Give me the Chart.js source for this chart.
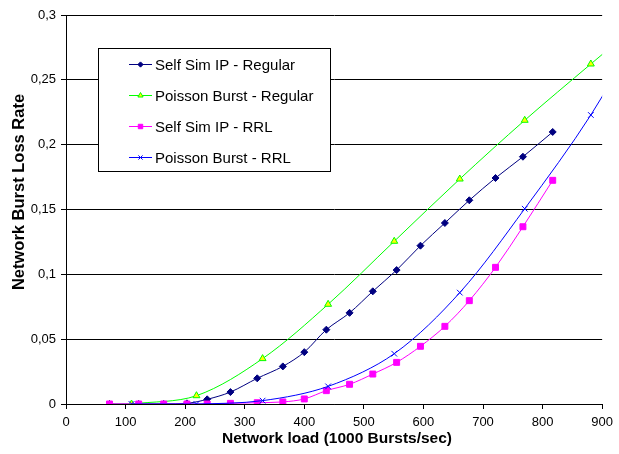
<!DOCTYPE html>
<html>
<head>
<meta charset="utf-8">
<script src="https://cdn.jsdelivr.net/npm/chart.js@4/dist/chart.umd.min.js"></script>
<style>
  html, body { margin: 0; padding: 0; background: #fff; }
  #chart { display: block; }
</style>
</head>
<body>
<canvas id="chart" width="619" height="454"></canvas>
<script>
// loads (1000 bursts/sec) and loss rates
const selfSimLoad = [73, 122, 164, 203, 237, 276, 321, 364, 400, 437, 476, 515, 555, 595, 636, 677, 721, 767, 817];
const selfSimRegular = [0, 0, 0, 0.0005, 0.0036, 0.0092, 0.0198, 0.029, 0.040, 0.0573, 0.0703, 0.0869, 0.1033, 0.1221, 0.1396, 0.1571, 0.1743, 0.1907, 0.2098];
const selfSimRRL = [0, 0, 0, 0, 0, 0.0005, 0.0010, 0.0016, 0.0039, 0.0103, 0.0152, 0.0231, 0.0321, 0.0445, 0.0599, 0.0797, 0.1054, 0.1367, 0.1725];

const poissonLoad = [110, 219, 330, 440, 551, 661, 770, 881, 992];
const poissonRegular = [0, 0.0064, 0.035, 0.0769, 0.1255, 0.1735, 0.2188, 0.2622, 0.305];
const poissonRRL = [0, 0, 0.0026, 0.0136, 0.0388, 0.0859, 0.1506, 0.2229, 0.31];

const seriesNames = ["Self Sim IP - Regular", "Poisson Burst - Regular", "Self Sim IP - RRL", "Poisson Burst - RRL"];

const xTickValues = [0, 100, 200, 300, 400, 500, 600, 700, 800, 900];
const xTickLabels = ["0", "100", "200", "300", "400", "500", "600", "700", "800", "900"];
const yTickValues = [0, 0.05, 0.1, 0.15, 0.2, 0.25, 0.3];
const yTickLabels = ["0", "0,05", "0,1", "0,15", "0,2", "0,25", "0,3"];

const FONT = "'Liberation Sans', Arial, sans-serif";

function points(xs, ys) {
  return xs.map((x, i) => ({ x, y: ys[i] }));
}

const legendBox = {
  id: "legendBox",
  afterDraw(chart) {
    const ctx = chart.ctx;
    ctx.save();
    ctx.fillStyle = "#fff";
    ctx.fillRect(98.5, 48.5, 232, 123);
    ctx.strokeStyle = "#000";
    ctx.lineWidth = 1;
    ctx.strokeRect(98.5, 48.5, 232, 123);
    chart.data.datasets.forEach((ds, i) => {
      const y = 64.5 + i * 31;
      ctx.strokeStyle = ds.borderColor;
      ctx.lineWidth = 1;
      ctx.beginPath();
      ctx.moveTo(129, y);
      ctx.lineTo(152, y);
      ctx.stroke();
      ctx.fillStyle = ds.pointBackgroundColor;
      ctx.strokeStyle = ds.pointBorderColor;
      Chart.helpers.drawPoint(ctx, { pointStyle: ds.pointStyle, radius: ds.pointRadius * 0.75, rotation: 0, borderWidth: 1 }, 140.5, y);
      ctx.fillStyle = "#000";
      ctx.font = "15px " + FONT;
      ctx.textAlign = "left";
      ctx.textBaseline = "middle";
      ctx.fillText(ds.label, 155, y + 1);
    });
    ctx.restore();
  }
};

const axisTitles = {
  id: "axisTitles",
  afterDraw(chart) {
    const ctx = chart.ctx;
    ctx.save();
    ctx.fillStyle = "#000";
    ctx.textAlign = "center";
    ctx.textBaseline = "alphabetic";
    ctx.font = "bold 15.5px " + FONT;
    ctx.fillText("Network load (1000 Bursts/sec)", 337, 443);
    ctx.font = "bold 16.5px " + FONT;
    ctx.translate(24, 192);
    ctx.rotate(-Math.PI / 2);
    ctx.fillText("Network Burst Loss Rate", 0, 0);
    ctx.restore();
  }
};

const line = (label, xs, ys, color, style, fill, radius, order) => ({
  label,
  data: points(xs, ys),
  borderColor: color,
  borderWidth: 1,
  pointStyle: style,
  pointRadius: radius,
  pointBackgroundColor: fill,
  pointBorderColor: color,
  pointBorderWidth: 1,
  tension: 0.33,
  order
});

new Chart(document.getElementById("chart"), {
  type: "line",
  data: {
    datasets: [
      line(seriesNames[0], selfSimLoad, selfSimRegular, "#000080", "rectRot", "#000080", 3.5, 4),
      line(seriesNames[1], poissonLoad, poissonRegular, "#00ff00", "triangle", "#ffff00", 4, 3),
      line(seriesNames[2], selfSimLoad, selfSimRRL, "#ff00ff", "rect", "#ff00ff", 4.2, 2),
      line(seriesNames[3], poissonLoad, poissonRRL, "#0000ff", "crossRot", "#0000ff", 4, 1)
    ]
  },
  options: {
    responsive: false,
    devicePixelRatio: 1,
    animation: false,
    layout: { padding: { top: 15, right: 11, left: 0, bottom: 0 } },
    plugins: { legend: { display: false }, tooltip: { enabled: false } },
    scales: {
      x: {
        type: "linear",
        min: 0,
        max: 900,
        afterBuildTicks: (s) => { s.ticks = xTickValues.map((v) => ({ value: v })); },
        afterFit: (s) => { s.height = 50; },
        ticks: { color: "#000", font: { size: 13, family: FONT }, padding: 6, maxRotation: 0, callback: (v, i) => xTickLabels[i] },
        grid: { drawOnChartArea: false, drawTicks: true, tickLength: 5, color: "#000" },
        border: { display: true, color: "#000" }
      },
      y: {
        min: 0,
        max: 0.3,
        afterBuildTicks: (s) => { s.ticks = yTickValues.map((v) => ({ value: v })); },
        afterFit: (s) => { s.width = 66; },
        ticks: { color: "#000", font: { size: 13, family: FONT }, padding: 5, callback: (v, i) => yTickLabels[i] },
        grid: { color: "#000", lineWidth: 1, drawTicks: true, tickLength: 5 },
        border: { display: true, color: "#000" }
      }
    }
  },
  plugins: [legendBox, axisTitles]
});
</script>
</body>
</html>
